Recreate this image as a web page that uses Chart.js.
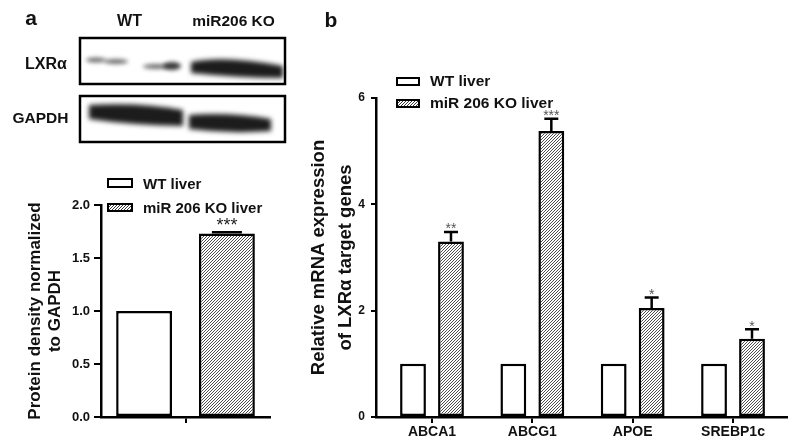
<!DOCTYPE html>
<html>
<head>
<meta charset="utf-8">
<script src="https://cdn.jsdelivr.net/npm/chart.js@4.4.1/dist/chart.umd.min.js"></script>
<style>
  html, body { margin: 0; padding: 0; background: #fff; }
  body { width: 800px; height: 444px; position: relative; overflow: hidden;
         font-family: Arial, "Liberation Sans", sans-serif; font-weight: bold; color: #111; }
  .t { position: absolute; white-space: nowrap; line-height: 1; }
  .c { transform: translate(-50%, -50%); }
  .l { transform: translate(0, -50%); }
  .sw { position: absolute; box-sizing: border-box; border: 2.5px solid #000; background: #fff; }
  .hatch { background: repeating-linear-gradient(135deg, #fff 0 1.2px, #3a3a3a 1.2px 2.1px); }
  #blot { position: absolute; left: 0; top: 0; }
  #chartA { position: absolute; left: 0; top: 170px; }
  #chartB { position: absolute; left: 300px; top: 60px; }
</style>
</head>
<body>
<canvas id="blot" width="300" height="160"></canvas>
<canvas id="chartA" width="300" height="274"></canvas>
<canvas id="chartB" width="500" height="384"></canvas>

<div class="t c" style="left:31px;top:17px;font-size:21px">a</div>
<div class="t c" style="left:331px;top:18.5px;font-size:21px">b</div>
<div class="t c" style="left:129.5px;top:21px;font-size:16px">WT</div>
<div class="t c" style="left:233.5px;top:21px;font-size:15.5px">miR206 KO</div>
<div class="t l" style="left:25px;top:64px;font-size:16px">LXRα</div>
<div class="t l" style="left:12.5px;top:117.5px;font-size:15.5px">GAPDH</div>

<div class="sw" style="left:107px;top:178px;width:26px;height:9.5px"></div>
<div class="sw hatch" style="left:107px;top:202.5px;width:26px;height:9.5px"></div>
<div class="t l" style="left:143px;top:182.5px;font-size:15px">WT liver</div>
<div class="t l" style="left:143px;top:207px;font-size:15px">miR 206 KO liver</div>

<div class="sw" style="left:396px;top:77px;width:24px;height:8.5px"></div>
<div class="sw hatch" style="left:396px;top:99px;width:24px;height:8.5px"></div>
<div class="t l" style="left:430px;top:80.5px;font-size:15.5px">WT liver</div>
<div class="t l" style="left:430px;top:103px;font-size:15.5px">miR 206 KO liver</div>

<script>
// panel a - LXRa protein, normalized to GAPDH
const proteinGroups = [''];
const wtProtein = [1.0];
const koProtein = [1.73];
const koProteinErr = [0.012];
const koProteinStars = ['***'];
const proteinTicks = [0, 0.5, 1.0, 1.5, 2.0];

// panel b - LXRa target genes, qPCR
const genes = ['ABCA1', 'ABCG1', 'APOE', 'SREBP1c'];
const wtMrna = [1, 1, 1, 1];
const koMrna = [3.30, 5.38, 2.05, 1.47];
const koMrnaErr = [0.18, 0.23, 0.20, 0.18];
const koMrnaStars = ['**', '***', '*', '*'];
const mrnaTicks = [0, 2, 4, 6];

const seriesNames = ['WT liver', 'miR 206 KO liver'];

const FONT = 'Arial, "Liberation Sans", sans-serif';
Chart.defaults.font.family = FONT;
Chart.defaults.color = '#111';

function hatch() {
  const c = document.createElement('canvas');
  c.width = 3; c.height = 3;
  const g = c.getContext('2d');
  g.fillStyle = '#fff';
  g.fillRect(0, 0, 3, 3);
  g.strokeStyle = '#3a3a3a';
  g.lineWidth = 0.9;
  g.beginPath();
  g.moveTo(-1, 4); g.lineTo(4, -1);
  g.moveTo(-1, 1); g.lineTo(1, -1);
  g.moveTo(2, 4); g.lineTo(4, 2);
  g.stroke();
  return g.createPattern(c, 'repeat');
}

// western blot picture
(function drawBlot() {
  const ctx = document.getElementById('blot').getContext('2d');
  ctx.save();
  ctx.filter = 'blur(2px)';
  ctx.fillStyle = 'rgba(60,60,60,0.75)';
  ctx.beginPath(); ctx.ellipse(96, 60, 10, 2.6, 0, 0, 7); ctx.fill();
  ctx.beginPath(); ctx.ellipse(116, 61.5, 12, 2.6, 0, 0, 7); ctx.fill();
  ctx.beginPath(); ctx.ellipse(156, 66.5, 13, 2.6, 0, 0, 7); ctx.fill();
  ctx.fillStyle = 'rgba(35,35,35,0.9)';
  ctx.beginPath(); ctx.ellipse(172, 66, 9, 4, 0, 0, 7); ctx.fill();
  ctx.restore();

  ctx.save();
  ctx.filter = 'blur(2.5px)';
  ctx.fillStyle = '#1c1c1c';
  // KO LXRa band
  ctx.beginPath();
  ctx.moveTo(191, 62);
  ctx.quadraticCurveTo(225, 55, 283, 66);
  ctx.lineTo(283, 78);
  ctx.quadraticCurveTo(240, 78, 191, 73);
  ctx.closePath(); ctx.fill();
  // GAPDH WT
  ctx.beginPath();
  ctx.moveTo(89, 105);
  ctx.quadraticCurveTo(140, 102, 183, 110);
  ctx.lineTo(183, 126);
  ctx.quadraticCurveTo(130, 125, 89, 119);
  ctx.closePath(); ctx.fill();
  // GAPDH KO
  ctx.beginPath();
  ctx.moveTo(189, 115);
  ctx.quadraticCurveTo(230, 112, 271, 119);
  ctx.lineTo(271, 131);
  ctx.quadraticCurveTo(230, 134, 189, 129);
  ctx.closePath(); ctx.fill();
  ctx.restore();

  ctx.strokeStyle = '#000';
  ctx.lineWidth = 2.5;
  ctx.strokeRect(80, 38, 205, 46);
  ctx.strokeRect(80, 96, 205, 46);
})();

const errorBars = {
  id: 'errorBars',
  afterDatasetsDraw(chart, args, o) {
    const ctx = chart.ctx;
    const ys = chart.scales.y;
    const meta = chart.getDatasetMeta(o.dataset);
    ctx.save();
    ctx.strokeStyle = '#000';
    ctx.lineWidth = o.lineWidth;
    meta.data.forEach((bar, i) => {
      const raw = chart.data.datasets[o.dataset].data[i];
      const v = typeof raw === 'object' ? raw.y : raw;
      const top = ys.getPixelForValue(v + o.errors[i]);
      ctx.beginPath();
      ctx.moveTo(bar.x, bar.y);
      ctx.lineTo(bar.x, top);
      ctx.moveTo(bar.x - o.cap / 2, top);
      ctx.lineTo(bar.x + o.cap / 2, top);
      ctx.stroke();
      ctx.fillStyle = o.starColor;
      ctx.font = o.starFont;
      ctx.textAlign = 'center';
      ctx.textBaseline = 'alphabetic';
      ctx.fillText(o.stars[i], bar.x, top + o.starShift);
    });
    ctx.restore();
  }
};

const axisLine = { color: '#000', width: 2.5 };

new Chart(document.getElementById('chartA'), {
  type: 'bar',
  data: {
    labels: proteinGroups,
    datasets: [
      { label: seriesNames[0], data: wtProtein, backgroundColor: '#fff', borderColor: '#000',
        borderWidth: 2.5, borderSkipped: false, categoryPercentage: 0.98, barPercentage: 0.675 },
      { label: seriesNames[1], data: koProtein, backgroundColor: hatch(), borderColor: '#000',
        borderWidth: 2.5, borderSkipped: false, categoryPercentage: 0.98, barPercentage: 0.675 }
    ]
  },
  options: {
    responsive: false,
    animation: false,
    layout: { padding: { top: 35, right: 30, left: 0, bottom: 0 } },
    plugins: {
      legend: { display: false },
      tooltip: { enabled: false },
      errorBars: { dataset: 1, errors: koProteinErr, stars: koProteinStars, cap: 30, lineWidth: 2.5,
                   starFont: '18px ' + FONT, starColor: '#222', starShift: -1 }
    },
    scales: {
      x: {
        grid: { offset: false, drawOnChartArea: false, tickLength: 6, color: '#000', lineWidth: 2 },
        border: axisLine,
        ticks: { padding: 1 },
        afterFit: s => { s.height = 27; }
      },
      y: {
        min: 0, max: 2,
        afterBuildTicks: s => { s.ticks = proteinTicks.map(v => ({ value: v })); },
        ticks: { callback: v => v.toFixed(1), color: '#111', padding: 4,
                 font: { size: 13, weight: 'bold' } },
        grid: { drawOnChartArea: false, tickLength: 7, color: '#000', lineWidth: 2 },
        border: axisLine,
        title: { display: true, text: ['Protein density normalized', 'to GAPDH'], color: '#111',
                 font: { size: 17, weight: 'bold', lineHeight: 1.18 }, padding: { top: 25, bottom: 0 } },
        afterFit: s => { s.width = 101; }
      }
    }
  },
  plugins: [errorBars]
});

new Chart(document.getElementById('chartB'), {
  type: 'bar',
  data: {
    datasets: [
      { label: seriesNames[0], data: genes.map((g, i) => ({ x: i, y: wtMrna[i] })),
        backgroundColor: '#fff', borderColor: '#000', borderWidth: 2.5, borderSkipped: false,
        categoryPercentage: 0.757, barPercentage: 0.68 },
      { label: seriesNames[1], data: genes.map((g, i) => ({ x: i, y: koMrna[i] })),
        backgroundColor: hatch(), borderColor: '#000', borderWidth: 2.5, borderSkipped: false,
        categoryPercentage: 0.757, barPercentage: 0.68 }
    ]
  },
  options: {
    responsive: false,
    animation: false,
    layout: { padding: { top: 38, right: 13, left: 0, bottom: 0 } },
    plugins: {
      legend: { display: false },
      tooltip: { enabled: false },
      errorBars: { dataset: 1, errors: koMrnaErr, stars: koMrnaStars, cap: 14, lineWidth: 2.5,
                   starFont: '14px ' + FONT, starColor: '#555', starShift: 1.5 }
    },
    scales: {
      x: {
        type: 'linear',
        offset: false,
        min: -0.558, max: 3.538,
        afterBuildTicks: s => { s.ticks = genes.map((g, i) => ({ value: i })); },
        ticks: { callback: v => genes[v] || '', color: '#111', padding: 1,
                 font: { size: 14, weight: 'bold' } },
        grid: { offset: false, drawOnChartArea: false, tickLength: 6, color: '#000', lineWidth: 2 },
        border: axisLine,
        afterFit: s => { s.height = 27; }
      },
      y: {
        min: 0, max: 6,
        afterBuildTicks: s => { s.ticks = mrnaTicks.map(v => ({ value: v })); },
        ticks: { color: '#111', padding: 6, font: { size: 12, weight: 'bold' } },
        grid: { drawOnChartArea: false, tickLength: 5, color: '#000', lineWidth: 2 },
        border: axisLine,
        title: { display: true, text: ['Relative mRNA expression', 'of LXRα target genes'], color: '#111',
                 font: { size: 18.5, weight: 'bold', lineHeight: 1.46 }, padding: { top: 5.5, bottom: 0 } },
        afterFit: s => { s.width = 76; }
      }
    }
  },
  plugins: [errorBars]
});
</script>
</body>
</html>
